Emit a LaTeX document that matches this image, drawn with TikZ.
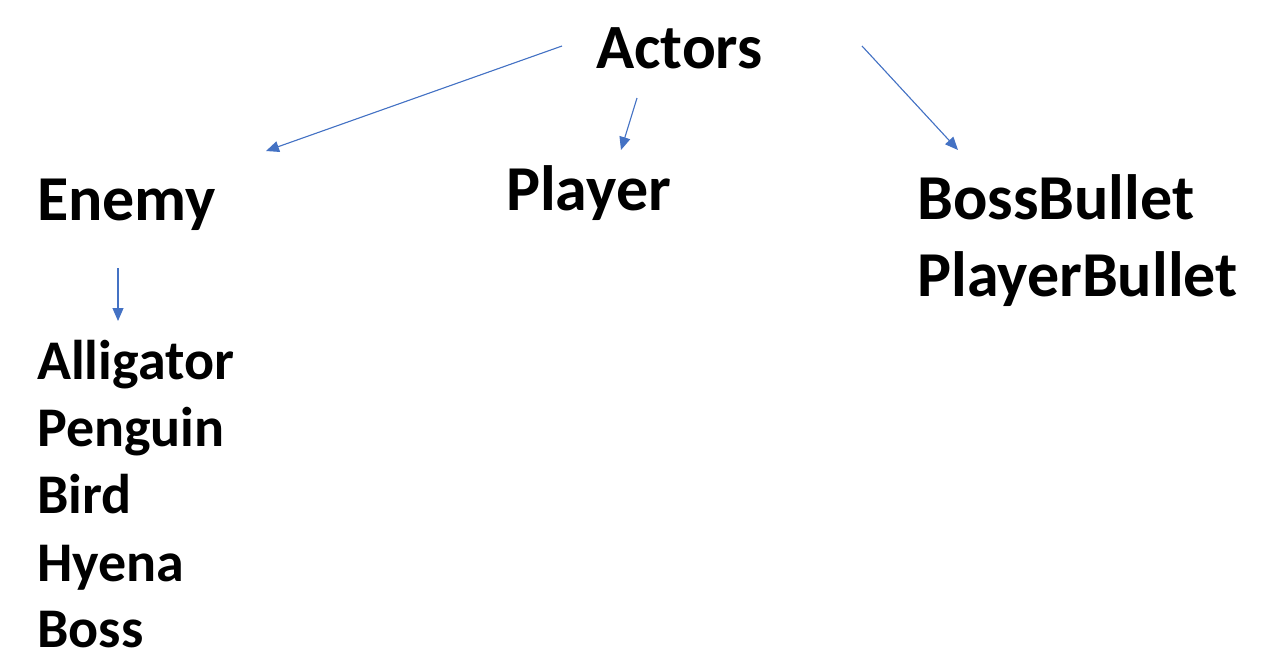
\documentclass[tikz,border=0pt]{standalone}
\usepackage{fontspec}
\setmainfont{Carlito}
\usepackage{tikz}
\usetikzlibrary{arrows.meta}
\definecolor{linkblue}{HTML}{4472C4}
\tikzset{
  label/.style={anchor=base west,inner sep=0pt,font=\fontsize{64}{68}\selectfont\bfseries},
  item/.style={label,font=\fontsize{56}{60}\selectfont\bfseries},
  link/.style={draw=linkblue,line width=1.1pt,-{Triangle[length=13pt,width=11pt]},fill=linkblue}
}

\begin{document}
\begin{tikzpicture}[x=1pt,y=-1pt]
\useasboundingbox(0,0)rectangle(1273,670);
\node[label,font=\fontsize{63}{67}\selectfont\bfseries](actors)at(596,68){Actors};
\node[label](enemy)at(37,220){Enemy};
\node[label](player)at(506,210){Player};
\node[label](bossbullet)at(917,219){BossBullet};
\node[label](playerbullet)at(917,296){PlayerBullet};
\node[item](alligator)at(37,379){Alligator};
\node[item](penguin)at(37,446){Penguin};
\node[item](bird)at(37,513){Bird};
\node[item](hyena)at(37,581){Hyena};
\node[item](boss)at(37,647){Boss};
% arrow ends
\coordinate(actorsL)at(562,46);
\coordinate(actorsM)at(637,98);
\coordinate(actorsR)at(862,46);
\coordinate(enemyT)at(266,151);
\coordinate(playerT)at(621,150);
\coordinate(bulletT)at(958,150);
\coordinate(enemyB)at(118,268);
\coordinate(listT)at(118,321);
\draw[link](actorsL)--(enemyT);
\draw[link](actorsM)--(playerT);
\draw[link](actorsR)--(bulletT);
\draw[link](enemyB)--(listT);
\end{tikzpicture}
\end{document}
